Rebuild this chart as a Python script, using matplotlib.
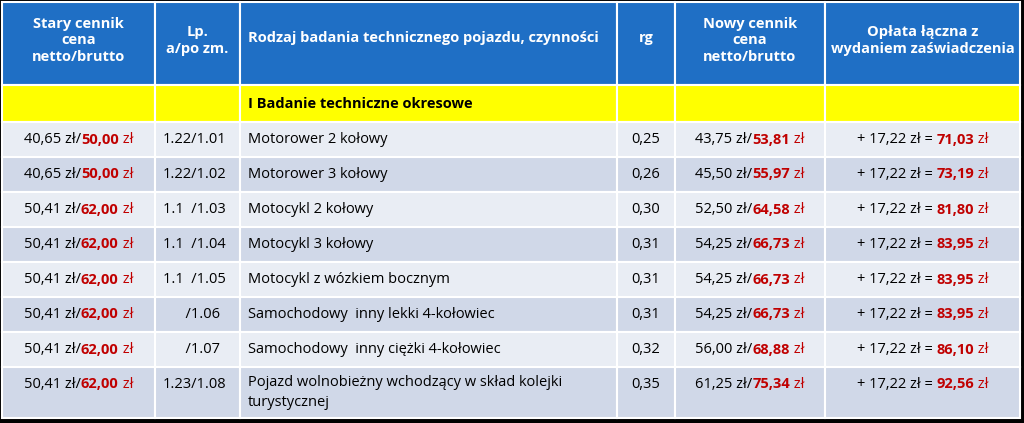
import matplotlib
matplotlib.use("Agg")
import matplotlib.pyplot as plt
from matplotlib.patches import Rectangle

headers = ["Stary cennik\ncena\nnetto/brutto", "Lp.\na/po zm.",
           "Rodzaj badania technicznego pojazdu, czynności", "rg",
           "Nowy cennik\ncena\nnetto/brutto", "Opłata łączna z\nwydaniem zaświadczenia"]
section_title = "I Badanie techniczne okresowe"
old_netto = ["40,65", "40,65", "50,41", "50,41", "50,41", "50,41", "50,41", "50,41"]
old_brutto = ["50,00", "50,00", "62,00", "62,00", "62,00", "62,00", "62,00", "62,00"]
lp = ["1.22/1.01", "1.22/1.02", "1.1  /1.03", "1.1  /1.04", "1.1  /1.05", "      /1.06", "      /1.07", "1.23/1.08"]
rodzaj = ["Motorower 2 kołowy", "Motorower 3 kołowy", "Motocykl 2 kołowy", "Motocykl 3 kołowy",
          "Motocykl z wózkiem bocznym", "Samochodowy  inny lekki 4-kołowiec",
          "Samochodowy  inny ciężki 4-kołowiec",
          "Pojazd wolnobieżny wchodzący w skład kolejki\nturystycznej"]
rg = ["0,25", "0,26", "0,30", "0,31", "0,31", "0,31", "0,32", "0,35"]
new_netto = ["43,75", "45,50", "52,50", "54,25", "54,25", "54,25", "56,00", "61,25"]
new_brutto = ["53,81", "55,97", "64,58", "66,73", "66,73", "66,73", "68,88", "75,34"]
fee = "17,22"
total = ["71,03", "73,19", "81,80", "83,95", "83,95", "83,95", "86,10", "92,56"]

W, H = 1024, 423
col_x = [2, 155, 240, 617, 675, 825, 1020]
row_y = [2, 85, 122, 157, 192, 227, 262, 297, 332, 367, 418]
BLUE = "#1f6fc5"
YELLOW = "#ffff00"
LIGHT = "#e9edf4"
DARK = "#d0d8e8"
RED = "#c00000"
FONT = "Open Sans"
FS = 10.5

fig = plt.figure(figsize=(W / 100, H / 100), dpi=100)
fig.patch.set_facecolor("black")
ax = fig.add_axes([0, 0, 1, 1])
ax.set_xlim(0, W)
ax.set_ylim(H, 0)
ax.axis("off")
fig.canvas.draw()
renderer = fig.canvas.get_renderer()


def cell(x0, x1, y0, y1, color):
    ax.add_patch(Rectangle((x0, y0), x1 - x0, y1 - y0, facecolor=color, edgecolor="white", lw=1.5))


def rich(parts, x, y, ha="center"):
    # parts: list of (text, color, weight); drawn side by side
    texts = [ax.text(0, y, t, color=c, fontweight=w, fontsize=FS, family=FONT, va="center", ha="left")
             for t, c, w in parts]
    inv = ax.transData.inverted()
    widths = []
    for t in texts:
        bb = t.get_window_extent(renderer)
        p0 = inv.transform((bb.x0, bb.y0))
        p1 = inv.transform((bb.x1, bb.y0))
        widths.append(p1[0] - p0[0])
    total_w = sum(widths)
    cx = x - total_w / 2 if ha == "center" else x
    for t, w in zip(texts, widths):
        t.set_x(cx)
        cx += w


# header
for i, h in enumerate(headers):
    cell(col_x[i], col_x[i + 1], row_y[0], row_y[1], BLUE)
    ha = "left" if i == 2 else "center"
    xx = col_x[i] + 8 if i == 2 else (col_x[i] + col_x[i + 1]) / 2
    yy = 38 if i in (2, 3) else (row_y[0] + row_y[1]) / 2 - 3
    ax.text(xx, yy, h, color="white", fontweight="bold", fontsize=FS, family=FONT,
            ha=ha, va="center", linespacing=1.25)

# section row
for i in range(6):
    cell(col_x[i], col_x[i + 1], row_y[1], row_y[2], YELLOW)
ax.text(col_x[2] + 8, (row_y[1] + row_y[2]) / 2, section_title, fontweight="bold",
        fontsize=FS, family=FONT, va="center")

for r in range(len(rodzaj)):
    y0, y1 = row_y[r + 2], row_y[r + 3]
    bg = LIGHT if r % 2 == 0 else DARK
    for i in range(6):
        cell(col_x[i], col_x[i + 1], y0, y1, bg)
    yc = (y0 + y1) / 2 if r < 7 else y0 + 17
    rich([(old_netto[r] + " zł/", "black", "normal"), (old_brutto[r], RED, "bold"), (" zł", RED, "normal")],
         (col_x[0] + col_x[1]) / 2, yc)
    ax.text(col_x[1] + 8, yc, lp[r], fontsize=FS, family=FONT, va="center")
    ax.text(col_x[2] + 8, yc if r < 7 else (y0 + y1) / 2, rodzaj[r], fontsize=FS, family=FONT,
            va="center", linespacing=1.4)
    ax.text((col_x[3] + col_x[4]) / 2, yc, rg[r], fontsize=FS, family=FONT, va="center", ha="center")
    rich([(new_netto[r] + " zł/", "black", "normal"), (new_brutto[r], RED, "bold"), (" zł", RED, "normal")],
         (col_x[4] + col_x[5]) / 2, yc)
    rich([("+ " + fee + " zł = ", "black", "normal"), (total[r], RED, "bold"), (" zł", RED, "normal")],
         (col_x[5] + col_x[6]) / 2, yc)

fig.savefig("out.png", dpi=100, facecolor="black")
